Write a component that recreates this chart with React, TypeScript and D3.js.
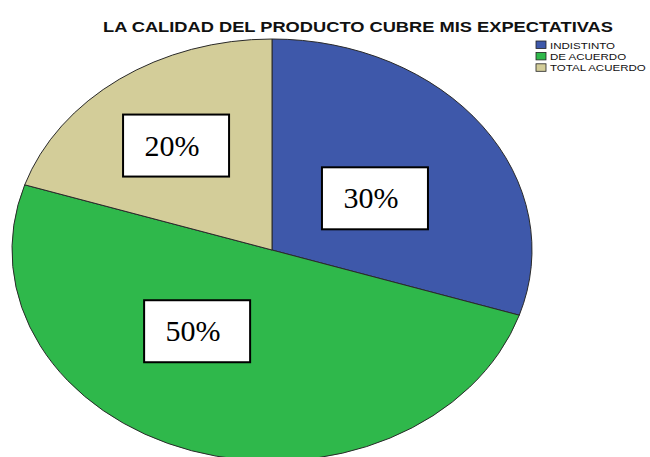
import React from "react";
import * as d3 from "d3";

const categories = ["INDISTINTO", "DE ACUERDO", "TOTAL ACUERDO"];
const percentages = [30, 50, 20];
const colors = ["#3e58aa", "#2fb84b", "#d3cd99"];
const title = "LA CALIDAD DEL PRODUCTO CUBRE MIS EXPECTATIVAS";

// label box placement, as fractions of the ellipse radii (layout, not data)
const labelOffsets: [number, number][] = [
  [0.396, -0.245],
  [-0.288, 0.385],
  [-0.369, -0.495],
];

const W = 650;
const H = 457;
const cx = 272;
const cy = 250;
const rx = 260;
const ry = 211;

export default function App() {
  const pie = d3.pie<number>().sort(null).value((d) => d)(percentages);
  const arc = d3.arc<d3.PieArcDatum<number>>().innerRadius(0).outerRadius(rx);
  const boxW = 106;
  const boxH = 62;
  return (
    <svg
      width={W}
      height={H}
      style={{ position: "absolute", left: 0, top: 0, background: "#fff" }}
    >
      <text
        x={103}
        y={32}
        textLength={510}
        lengthAdjust="spacingAndGlyphs"
        fontFamily="'Liberation Sans', Arial, sans-serif"
        fontWeight="bold"
        fontSize={15}
        fill="#111"
      >
        {title}
      </text>
      <g transform={`translate(${cx},${cy}) scale(1,${ry / rx})`}>
        {pie.map((p, i) => (
          <path
            key={i}
            d={arc(p) || ""}
            fill={colors[i]}
            stroke="#2a2a2a"
            strokeWidth={1}
            vectorEffect="non-scaling-stroke"
          />
        ))}
      </g>
      {pie.map((p, i) => {
        const lx = cx + labelOffsets[i][0] * rx;
        const ly = cy + labelOffsets[i][1] * ry;
        return (
          <g key={"l" + i}>
            <rect
              x={lx - boxW / 2}
              y={ly - boxH / 2}
              width={boxW}
              height={boxH}
              fill="#fff"
              stroke="#000"
              strokeWidth={2}
            />
            <text
              x={lx - 4}
              y={ly + 10}
              textAnchor="middle"
              fontFamily="'Liberation Serif', 'Times New Roman', serif"
              fontSize={30}
              fill="#000"
            >
              {`${p.data}%`}
            </text>
          </g>
        );
      })}
      {categories.map((c, i) => (
        <g key={"g" + i} transform={`translate(536,${41 + i * 11.4})`}>
          <rect
            x={0}
            y={0}
            width={10}
            height={7.5}
            fill={colors[i]}
            stroke="#222"
            strokeWidth={0.8}
          />
          <text
            transform={`translate(14,7.6) scale(1.2,1)`}
            fontFamily="'Liberation Sans', Arial, sans-serif"
            fontSize={9.6}
            fill="#111"
          >
            {c}
          </text>
        </g>
      ))}
    </svg>
  );
}
